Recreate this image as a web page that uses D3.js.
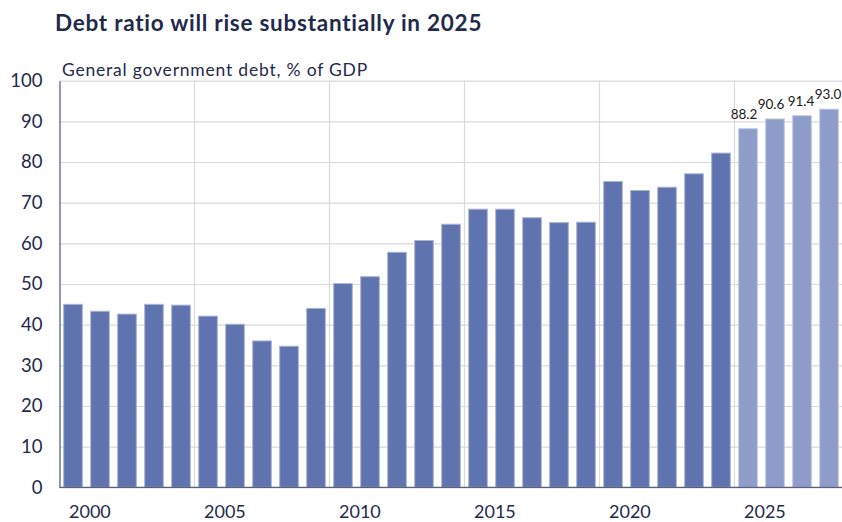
<!DOCTYPE html>
<html>
<head>
<meta charset="utf-8">
<script src="https://cdn.jsdelivr.net/npm/d3@7"></script>
<style>
  html, body { margin: 0; padding: 0; background: #ffffff; }
  svg { display: block; }
  text { font-family: Lato, "Open Sans", sans-serif; }
</style>
</head>
<body>
<svg id="chart" width="842" height="522"></svg>
<script>
// ---- data ----
const years = [2000,2001,2002,2003,2004,2005,2006,2007,2008,2009,
               2010,2011,2012,2013,2014,2015,2016,2017,2018,2019,
               2020,2021,2022,2023,2024,2025,2026,2027,2028];
const debtRatio = [45.0,43.3,42.6,45.0,44.8,42.1,40.1,36.0,34.7,44.0,
                   50.1,51.8,57.8,60.7,64.7,68.4,68.4,66.3,65.1,65.2,
                   75.2,73.0,73.8,77.1,82.2,88.2,90.6,91.4,93.0];
const forecastYears = [2025,2026,2027,2028];
const labelledYears = [2025,2026,2027,2028];
const yTicks = [0,10,20,30,40,50,60,70,80,90,100];
const xTickYears = [2000,2005,2010,2015,2020,2025];
const titleText = "Debt ratio will rise substantially in 2025";
const subtitleText = "General government debt, % of GDP";

const data = years.map((yr, i) => ({ year: yr, value: debtRatio[i] }));

// ---- layout ----
const svg = d3.select("#chart");
const plotLeft = 59.5, plotRight = 842.5, plotTop = 80.7, plotBottom = 487.3;

const x = d3.scaleBand().domain(years).range([plotLeft, plotRight])
  .paddingInner(0.31).paddingOuter(0.155);
const y = d3.scaleLinear().domain([0, 100]).range([plotBottom, plotTop]);
const bandStart = yr => x(yr) - x.step() * x.paddingInner() / 2;

const ink = "#1f2a4d";

// spread text to a target width with letter spacing (keeps glyph height)
function fitWidth(sel, target) {
  const node = sel.node();
  const w = node.getComputedTextLength();
  const n = node.textContent.length;
  if (n > 1) sel.attr("letter-spacing", ((target - w) / n).toFixed(3));
}

// title + subtitle
const title = svg.append("text").attr("x", 55).attr("y", 31)
  .attr("font-size", 22.5).attr("font-weight", 700).attr("fill", ink)
  .text(titleText);
fitWidth(title, 428);
const subtitle = svg.append("text").attr("x", 62).attr("y", 75.5)
  .attr("font-size", 17.5).attr("fill", ink)
  .text(subtitleText);
fitWidth(subtitle, 306);

// horizontal gridlines
const gY = svg.append("g")
  .attr("transform", `translate(${plotLeft},0)`)
  .call(d3.axisLeft(y).tickValues(yTicks).tickSize(-(plotRight - plotLeft)).tickFormat(""));
gY.select(".domain").remove();
gY.selectAll(".tick line").attr("stroke", "#d9d9de").attr("stroke-width", 1.2);

// vertical gridlines at band starts every 5 years
svg.append("g").selectAll("line").data(xTickYears.slice(1)).join("line")
  .attr("x1", d => bandStart(d))
  .attr("x2", d => bandStart(d))
  .attr("y1", plotTop).attr("y2", plotBottom)
  .attr("stroke", "#d9d9de").attr("stroke-width", 1.2);

// bars
svg.append("g").selectAll("rect").data(data).join("rect")
  .attr("x", d => x(d.year))
  .attr("y", d => y(d.value))
  .attr("width", x.bandwidth())
  .attr("height", d => y(0) - y(d.value))
  .attr("fill", d => forecastYears.includes(d.year) ? "#8d9cc9" : "#5f73ae")
  .attr("stroke", d => forecastYears.includes(d.year) ? "#c3cbe4" : "#a9b4d6")
  .attr("stroke-width", 1);

// value labels
svg.append("g").selectAll("text").data(data.filter(d => labelledYears.includes(d.year))).join("text")
  .attr("x", (d, i) => x(d.year) + x.bandwidth() / 2 - (i < 2 ? 4 : 1))
  .attr("y", d => y(d.value) - 10)
  .attr("text-anchor", "middle")
  .attr("font-size", 13.5).attr("fill", "#1a1a1a")
  .text(d => d.value.toFixed(1));

// y axis line + labels
const yAxis = svg.append("g")
  .attr("transform", `translate(${plotLeft},0)`)
  .call(d3.axisLeft(y).tickValues(yTicks).tickSize(0).tickPadding(17));
yAxis.select(".domain").attr("stroke", "#5b6281").attr("stroke-width", 1.3);
yAxis.selectAll(".tick text").attr("font-size", 18.5).attr("fill", ink)
  .attr("font-family", "Lato, sans-serif");

// x axis line
svg.append("line").attr("x1", plotLeft).attr("x2", plotRight)
  .attr("y1", plotBottom).attr("y2", plotBottom)
  .attr("stroke", "#5b6281").attr("stroke-width", 1.3);

// x tick labels
svg.append("g").selectAll("text").data(xTickYears).join("text")
  .attr("x", d => bandStart(d) + 9.5)
  .attr("y", 518)
  .attr("font-size", 18).attr("fill", ink)
  .text(d => d);
</script>
</body>
</html>
